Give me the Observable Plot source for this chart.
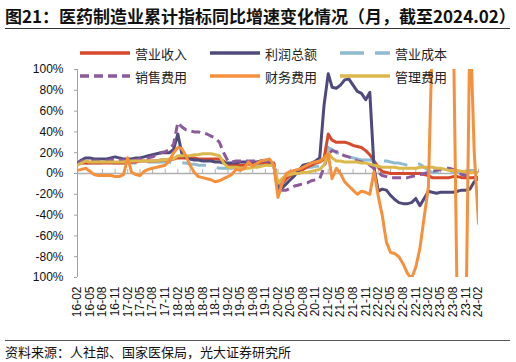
<!DOCTYPE html>
<html><head><meta charset="utf-8">
<script src="https://cdn.jsdelivr.net/npm/d3@7"></script>
<script src="https://cdn.jsdelivr.net/npm/@observablehq/plot@0.6"></script>
<style>
body{margin:0;background:#fff;}
#wrap{position:relative;width:516px;height:362px;overflow:hidden;font-family:"Noto Sans CJK SC","Noto Sans",sans-serif;}
.title{position:absolute;left:5px;top:3px;font-weight:bold;font-size:17px;white-space:nowrap;color:#111;}
.hr{position:absolute;left:5px;width:505px;height:0;}
.src{position:absolute;left:5px;top:342px;font-size:13px;color:#111;white-space:nowrap;}
.leg{position:absolute;display:flex;align-items:center;font-size:13px;color:#222;white-space:nowrap;}
.leg svg{margin-right:5px;}
#chart{position:absolute;left:0;top:0;}
</style></head>
<body><div id="wrap">
<div class="title">图21：医药制造业累计指标同比增速变化情况（月，截至2024.02）</div>
<div class="hr" style="top:28px;border-top:1.5px solid #333;"></div>
<div id="chart"></div>
<div id="legend"></div>
<div class="hr" style="top:340px;border-top:1.5px solid #555;"></div>
<div class="src">资料来源：人社部、国家医保局，光大证券研究所</div>
</div>
<script>
// Monthly, 2016-02 .. 2024-02 (97 months)
const seriesNames = ["营业收入", "利润总额", "营业成本", "销售费用", "财务费用", "管理费用"];

const revenue = [
  9, 10, 10, 10, 10, 10, 10, 10, 10, 10, 10, 10,
  11, 11, 11, 12, 12, 12, 12, 12, 13, 13, 13, 14,
  15, 15, 15, 15, 15, 14, 14, 14, 14, 14, 14, 12,
  8, 8, 8, 8, 8, 9, 9, 10, 10, 10, 10, 10,
  -15, -10, -5, -2, 0, 2, 4, 6, 8, 10, 11, 14,
  38, 32, 30, 30, 30, 29, 27, 26, 25, 22, 18, 12,
  6, 2, 1, 0, 0, 0, 0, 0, 0, 0, 0, -1,
  -2, -4, -4, -4, -4, -4, -3, -3, -4, -4, -4, -4, -4
];
const profit = [
  10, 13, 15, 15, 14, 14, 14, 14, 15, 16, 15, 14,
  14, 14, 15, 15, 16, 17, 18, 19, 20, 20, 20, 23,
  38, 20, 15, 14, 13, 13, 12, 12, 12, 11, 11, 10,
  10, 10, 10, 11, 11, 11, 11, 11, 12, 12, 11, 8,
  -16, -14, -10, -6, -2, 3, 8, 9, 10, 12, 15, 65,
  96, 83, 82, 85, 90, 91, 85, 79, 77, 71, 78, 5,
  -17, -15, -16, -21, -25, -28, -29, -29, -28, -24, -31, -24,
  -17, -18, -19, -18, -18, -18, -18, -17, -16, -16, -15, -8, -4
];
const cost = [
  10, 10, 10, 10, 10, 10, 10, 10, 10, 10, 10, 10,
  10, 10, 10, 10, 10, 11, 11, 11, 11, 11, 11, 10,
  10, 10, 10, 9, 9, 8, 8, 8, 7, 6, 5, 5,
  5, 5, 6, 6, 6, 7, 7, 8, 8, 9, 8, 8,
  -13, -8, -2, 1, 3, 4, 5, 6, 6, 7, 7, 9,
  25, 23, 20, 19, 17, 16, 15, 14, 13, 13, 13, 12,
  12, 12, 12, 11, 10, 10, 9, 8, 9, 10, 9, 6,
  3, 1, 1, 1, 1, 1, 1, 1, 2, 2, 3, 3, 3
];
const selling = [
  10, 12, 12, 12, 12, 12, 12, 12, 13, 13, 13, 13,
  13, 13, 13, 14, 14, 15, 16, 18, 20, 21, 23, 28,
  49, 45, 42, 41, 40, 40, 39, 38, 36, 34, 30, 20,
  12, 11, 12, 12, 12, 12, 12, 12, 12, 12, 11, 10,
  -14, -16, -16, -14, -12, -11, -10, -9, -7, -6, -5, 6,
  19, 22, 21, 19, 17, 16, 14, 12, 11, 10, 8, 5,
  1, -2, -3, -4, -4, -4, -4, -4, -3, -2, -1, 0,
  1, 2, 3, 4, 5, 5, 4, 2, -1, -2, -3, -4, -4
];
const finance = [
  3, 4, 5, 2, -1, -2, -2, -2, -2, -3, -3, -1,
  15, 1, -1, -2, 2, 4, 5, 6, 7, 8, 12, 20,
  25, 24, 17, 8, 1, -3, -4, -5, -6, -8, -7, -5,
  -3, -1, 4, 3, 5, 11, 7, 10, 12, 13, 14, 8,
  -23, -10, 0, 2, 3, 4, 6, 8, 10, 11, 12, 15,
  19, -5, 5, 0, -8, -12, -16, -20, -17, -18, -20, 2,
  -22, -40, -66, -76, -77, -80, -87, -96, -101, -90, -72, -42,
  -13, 130, 250, 300, 280, 220, 150, -150, -200, -150, 150, 20, -48
];
const admin = [
  8, 10, 12, 11, 11, 11, 11, 11, 11, 11, 11, 11,
  12, 12, 12, 12, 12, 12, 12, 12, 13, 13, 14, 14,
  17, 17, 17, 17, 18, 18, 19, 19, 19, 18, 17, 10,
  6, 6, 6, 5, 5, 5, 6, 6, 7, 8, 8, 8,
  -9, -5, -2, -1, 0, 0, 1, 1, 2, 3, 4, 8,
  20, 15, 12, 12, 11, 11, 11, 11, 10, 10, 9, 8,
  7, 6, 6, 6, 6, 5, 5, 5, 5, 5, 6, 6,
  6, 6, 5, 5, 4, 3, 3, 3, 2, 2, 1, 1, 1
];

const xTickLabels = ["16-02","16-05","16-08","16-11","17-02","17-05","17-08","17-11",
  "18-02","18-05","18-08","18-11","19-02","19-05","19-08","19-11",
  "20-02","20-05","20-08","20-11","21-02","21-05","21-08","21-11",
  "22-02","22-05","22-08","22-11","23-02","23-05","23-08","23-11","24-02"];
const yTicks = [-100, -80, -60, -40, -20, 0, 20, 40, 60, 80, 100];
const yTickLabels = ["100%", "-80%", "-60%", "-40%", "-20%", "0%", "20%", "40%", "60%", "80%", "100%"];

const colors = ["#d6492c", "#4f4a7c", "#8fbad2", "#8a5a9c", "#f5913c", "#dbb84b"];
const dashes = [null, null, "24,11", "9,5", null, null];

const valuesList = [revenue, profit, cost, selling, finance, admin];
const parse = d3.utcParse("%y-%m");
const start = parse("16-02");
const dates = d3.utcMonth.range(start, d3.utcMonth.offset(parse("24-02"), 1));
const xTicks = xTickLabels.map(parse);
const xLabelMap = new Map(xTicks.map((d, i) => [+d, xTickLabels[i]]));
const yLabelMap = new Map(yTicks.map((d, i) => [d, yTickLabels[i]]));

const series = seriesNames.map((name, k) => ({
  name, color: colors[k], dash: dashes[k],
  data: valuesList[k].map((v, i) => ({date: dates[i], value: v}))
}));
const drawOrder = [2, 0, 1, 3, 5, 4];

const chart = Plot.plot({
  width: 516, height: 330,
  marginLeft: 77, marginRight: 38, marginTop: 69, marginBottom: 53,
  style: {fontFamily: "'Liberation Sans', Arial, sans-serif", fontSize: "12px", color: "#111", background: "transparent", overflow: "visible"},
  x: {type: "utc", domain: [start, parse("24-02")]},
  y: {domain: [-100, 100]},
  marks: [
    Plot.ruleY([0], {stroke: "#b0b0b0", strokeWidth: 1.3}),
    Plot.ruleX(xTicks, {x: d => d, y1: 0, y2: 4, stroke: "#b0b0b0", strokeWidth: 1}),
    Plot.ruleX([start], {y1: -100, y2: 100, stroke: "#a0a0a0", strokeWidth: 1}),
    Plot.axisY({ticks: yTicks, tickFormat: d => yLabelMap.get(d), tickSize: 3, tickPadding: 11, stroke: "#a0a0a0", fill: "#111", label: null}),
    Plot.axisX({ticks: xTicks, tickFormat: d => xLabelMap.get(+d), tickRotate: -90, tickSize: 0, tickPadding: 9, fill: "#111", label: null}),
    ...drawOrder.map(k => Plot.line(series[k].data, {
      x: "date", y: "value", stroke: series[k].color, strokeWidth: 3,
      strokeDasharray: series[k].dash || undefined, strokeLinejoin: "round",
      strokeLinecap: series[k].dash ? "butt" : "round", clip: true
    }))
  ]
});
document.getElementById("chart").appendChild(chart);

// legend (HTML overlay)
const legPos = [[80, 53], [210, 53], [340, 53], [80, 76], [210, 76], [340, 76]];
const legend = document.getElementById("legend");
series.forEach((s, k) => {
  const div = document.createElement("div");
  div.className = "leg";
  div.style.left = legPos[k][0] + "px";
  div.style.top = (legPos[k][1] - 10) + "px";
  div.style.height = "20px";
  const dash = s.dash ? `stroke-dasharray="${s.dash}"` : "";
  div.innerHTML = `<svg width="50" height="6"><line x1="0" x2="50" y1="3" y2="3" stroke="${s.color}" stroke-width="3.5" ${dash}/></svg><span>${s.name}</span>`;
  legend.appendChild(div);
});
</script>
</body></html>
